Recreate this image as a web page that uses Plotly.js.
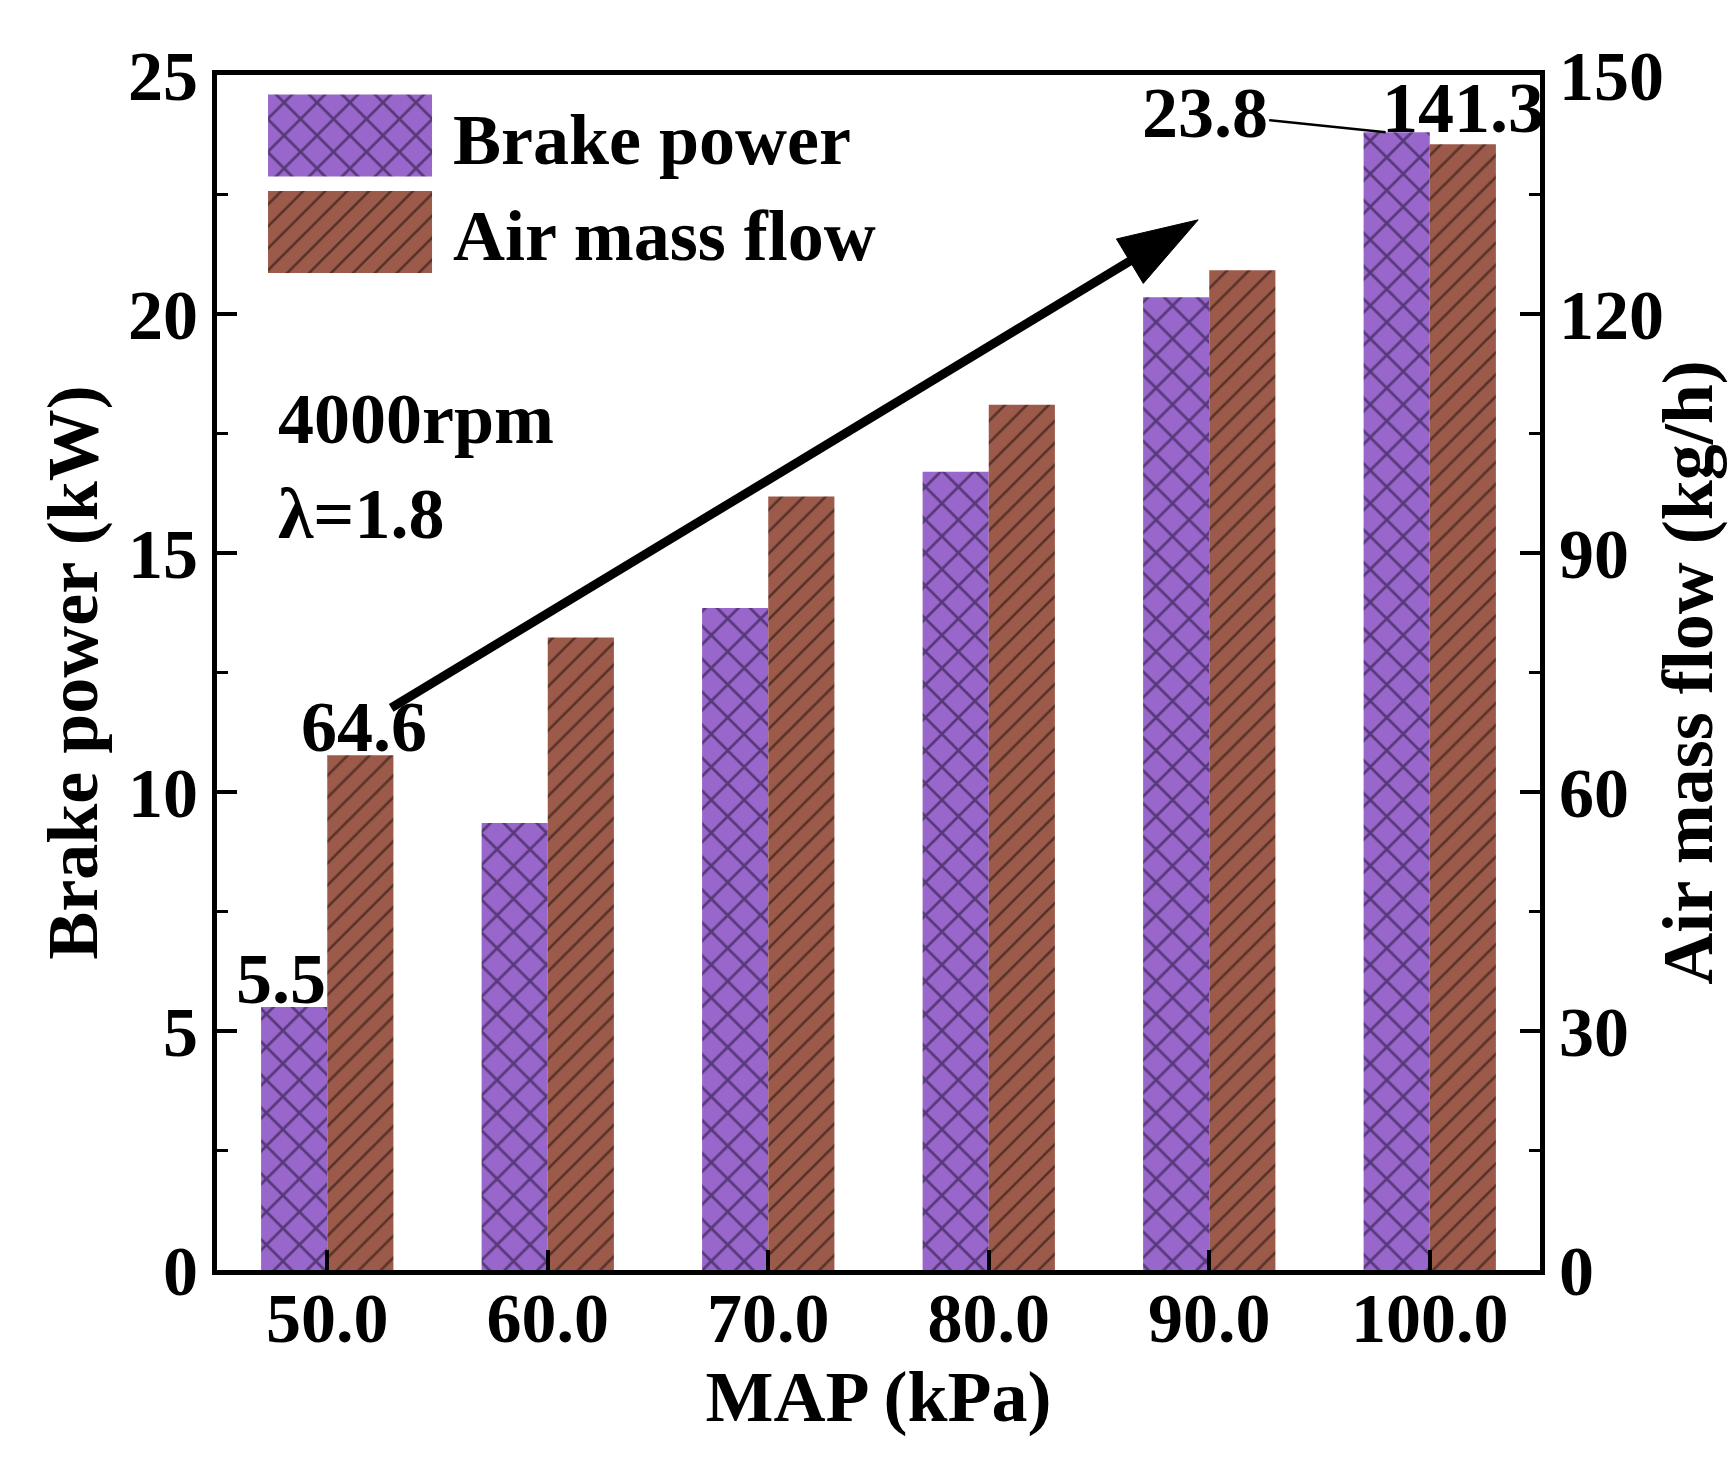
<!DOCTYPE html>
<html>
<head>
<meta charset="utf-8">
<script src="https://cdn.plot.ly/plotly-3.0.1.min.js"></script>
<style>
  body { margin: 0; background: #fff; }
  #myChart { width: 1735px; height: 1476px; }
</style>
</head>
<body>
<div id="myChart"></div>
<script>
// MAP sweep at 4000 rpm, lambda 1.8
var map_kPa = ["50.0", "60.0", "70.0", "80.0", "90.0", "100.0"];
var brake_power = [5.5, 9.35, 13.85, 16.7, 20.35, 23.8]; // kW
var air_mass_flow = [64.6, 79.4, 97.1, 108.6, 125.5, 141.3]; // kg/h

// trend arrow (tail -> tip), x in category index, y in kW
var arrow_x = [0.29, 3.95];
var arrow_y = [11.76, 21.97];

var FONT = "Liberation Serif, Times New Roman, serif";
var big = { family: FONT, size: 72, color: "#000", weight: "bold" };
var tickF = { family: FONT, size: 70, color: "#000", weight: "bold" };

var trace1 = {
  x: map_kPa,
  y: brake_power,
  type: "bar",
  name: "Brake power",
  yaxis: "y",
  width: 0.3,
  offset: -0.3,
  marker: {
    color: "#9966cc",
    line: { width: 0 },
    pattern: { shape: "x", size: 23.3, solidity: 0.22, fgcolor: "#150a25", fillmode: "overlay" },
  },
};

var trace2 = {
  x: map_kPa,
  y: air_mass_flow,
  type: "bar",
  name: "Air mass flow",
  yaxis: "y2",
  width: 0.3,
  offset: 0,
  marker: {
    color: "#9c5a4a",
    line: { width: 0 },
    pattern: { shape: "/", size: 15.5, solidity: 0.17, fgcolor: "#140805", fillmode: "overlay" },
  },
};

var trace3 = {
  x: arrow_x,
  y: arrow_y,
  xaxis: "x2",
  yaxis: "y",
  mode: "lines+markers",
  type: "scatter",
  showlegend: false,
  hoverinfo: "skip",
  line: { color: "#000", width: 9 },
  marker: {
    symbol: "arrow",
    size: [0, 84],
    angleref: "previous",
    color: "#000",
    opacity: 1,
    line: { color: "#000", width: 1 },
  },
};

var data = [trace1, trace2, trace3];

var axisLine = { showline: true, linewidth: 5, linecolor: "#000", showgrid: false, zeroline: false };

var layout = {
  width: 1735,
  height: 1476,
  margin: { l: 217, r: 195, t: 75, b: 206, pad: 0 },
  paper_bgcolor: "#fff",
  plot_bgcolor: "#fff",
  barmode: "overlay",
  font: big,
  showlegend: true,
  legend: {
    x: 0.0227,
    y: 0.994,
    xanchor: "left",
    yanchor: "top",
    font: big,
    bgcolor: "rgba(0,0,0,0)",
    itemwidth: 196,
  },
  xaxis: Object.assign({}, axisLine, {
    type: "category",
    range: [-0.5, 5.5],
    mirror: true,
    ticks: "inside",
    ticklen: 20,
    tickwidth: 4,
    tickcolor: "#000",
    tickfont: tickF,
    ticklabelstandoff: -17,
    title: { text: "MAP (kPa)", font: big, standoff: 14 },
  }),
  xaxis2: {
    overlaying: "x",
    range: [-0.5, 5.5],
    visible: false,
  },
  yaxis: Object.assign({}, axisLine, {
    range: [0, 25],
    dtick: 5,
    ticks: "inside",
    ticklen: 20,
    tickwidth: 4,
    tickcolor: "#000",
    tickfont: tickF,
    minor: { dtick: 2.5, ticks: "inside", ticklen: 11, tickwidth: 3, tickcolor: "#000" },
    title: { text: "Brake power (kW)", font: big, standoff: 8 },
  }),
  yaxis2: Object.assign({}, axisLine, {
    overlaying: "y",
    side: "right",
    range: [0, 150],
    dtick: 30,
    ticks: "inside",
    ticklen: 20,
    tickwidth: 4,
    tickcolor: "#000",
    tickfont: tickF,
    minor: { dtick: 15, ticks: "inside", ticklen: 11, tickwidth: 3, tickcolor: "#000" },
    title: { text: "Air mass flow (kg/h)", font: big, standoff: 0 },
  }),
  annotations: [
    { xref: "paper", yref: "paper", x: 0.0446, y: 0.712, xanchor: "left", yanchor: "middle",
      text: "4000rpm", showarrow: false, font: big },
    { xref: "paper", yref: "paper", x: 0.0446, y: 0.633, xanchor: "left", yanchor: "middle",
      text: "λ=1.8", showarrow: false, font: big },
    { xref: "x", yref: "y", x: 0, y: brake_power[0], xshift: -46, yshift: -14, yanchor: "bottom",
      text: String(brake_power[0]), showarrow: false, font: big },
    { xref: "x", yref: "y2", x: 0, y: air_mass_flow[0], xshift: 37, yshift: -14, yanchor: "bottom",
      text: String(air_mass_flow[0]), showarrow: false, font: big },
    { xref: "x", yref: "y2", x: 5, y: air_mass_flow[5], xshift: 33, yshift: -6, yanchor: "bottom",
      text: String(air_mass_flow[5]), showarrow: false, font: big },
    { xref: "x", yref: "y", x: 4.8, y: brake_power[5], ax: -181, ay: -19,
      text: String(brake_power[5]), showarrow: true, arrowhead: 0, arrowwidth: 2.5, arrowcolor: "#000", font: big },
  ],
};

// bigger legend swatches, same pattern as the bars
function fixLegend(gd) {
  var bars = gd.querySelectorAll(".barlayer .trace");
  var items = gd.querySelectorAll(".legend .traces");
  items.forEach(function (it, i) {
    var src = bars[i] && bars[i].querySelector("path");
    it.querySelectorAll(".legendpoints path").forEach(function (p) {
      p.setAttribute("d", "M-82,-41H82V41H-82Z");
      if (src) p.style.fill = src.style.fill;
    });
  });
}

Plotly.newPlot("myChart", data, layout, { staticPlot: true }).then(function (gd) {
  fixLegend(gd);
  gd.on("plotly_afterplot", function () { fixLegend(gd); });
  setTimeout(function () { fixLegend(gd); }, 50);
});
</script>
</body>
</html>
